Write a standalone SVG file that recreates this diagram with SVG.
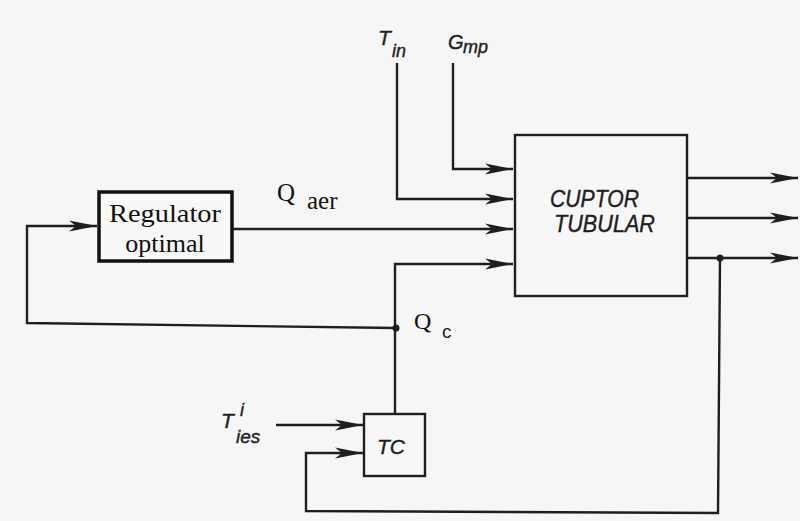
<svg xmlns="http://www.w3.org/2000/svg" width="800" height="521" viewBox="0 0 800 521">
<defs>
<style>
.ln{fill:none;stroke:#1e1e1e;stroke-width:2.4;stroke-linejoin:miter}
.box{fill:#f7f7f7;stroke:#1e1e1e;stroke-width:2.4}
.sans{font-family:"Liberation Sans",Arial,sans-serif;font-style:italic;fill:#1e1e1e;stroke:#1e1e1e;stroke-width:0.4}
.up{font-style:normal;stroke:none}
.serif{font-family:"Liberation Serif","Times New Roman",serif;fill:#111}
</style>
<marker id="ah" markerUnits="userSpaceOnUse" markerWidth="30" markerHeight="14" refX="28" refY="7" orient="auto">
<path d="M0,1.5 L28,7 L0,12.5 L7,7 z" fill="#1e1e1e"/>
</marker>
</defs>
<rect width="800" height="521" fill="#f6f6f6"/>

<g id="connectors">
<path class="ln" d="M453,63 V169 H513" marker-end="url(#ah)"/>
<path class="ln" d="M397,63 V199 H513" marker-end="url(#ah)"/>
<path class="ln" d="M233,229 H513" marker-end="url(#ah)"/>
<path class="ln" d="M395,414 V264 H513" marker-end="url(#ah)"/>
<path class="ln" d="M687,178 H798" marker-end="url(#ah)"/>
<path class="ln" d="M687,218 H798" marker-end="url(#ah)"/>
<path class="ln" d="M687,258 H798" marker-end="url(#ah)"/>
<path class="ln" d="M396,328 L27,323 V226 H97" marker-end="url(#ah)"/>
<path class="ln" d="M720,258 L718,513 L306,511 V453 H363" marker-end="url(#ah)"/>
<path class="ln" d="M276,425 H363" marker-end="url(#ah)"/>
<circle cx="396" cy="328" r="3.5" fill="#1e1e1e"/>
<circle cx="720" cy="258" r="3.5" fill="#1e1e1e"/>
<g id="labels">
<text class="sans" x="378" y="45" font-size="21">T</text>
<text class="sans" x="392" y="57" font-size="18">in</text>
<text class="sans" x="448" y="49" font-size="20">G</text>
<text class="sans" x="463" y="53" font-size="18">mp</text>
<text class="serif" x="277" y="201" font-size="25">Q</text>
<text class="serif" x="307" y="209" font-size="25">aer</text>
<text class="serif" x="414" y="329" font-size="24">Q</text>
<text class="sans up" x="442" y="338" font-size="19">c</text>
<text class="sans" x="221" y="428" font-size="21">T</text>
<text class="sans" x="240" y="416" font-size="18">i</text>
<text class="sans" x="236" y="443" font-size="19">ies</text>
</g>
</g>

<g id="regulator">
<rect x="99" y="192" width="133" height="69" fill="#f8f8f8" stroke="#111" stroke-width="3.5"/>
<text class="serif" x="165" y="222" font-size="26" text-anchor="middle" textLength="112" lengthAdjust="spacingAndGlyphs">Regulator</text>
<text class="serif" x="165" y="252" font-size="26" text-anchor="middle">optimal</text>
</g>

<g id="cuptor">
<rect class="box" x="515" y="135" width="172" height="161"/>
<text class="sans" x="550" y="207" font-size="24" textLength="89" lengthAdjust="spacingAndGlyphs">CUPTOR</text>
<text class="sans" x="554" y="232" font-size="24" textLength="101" lengthAdjust="spacingAndGlyphs">TUBULAR</text>
</g>

<g id="tc">
<rect class="box" x="364" y="414" width="61" height="62"/>
<text class="sans" x="377" y="454" font-size="21">TC</text>
</g>
</svg>
